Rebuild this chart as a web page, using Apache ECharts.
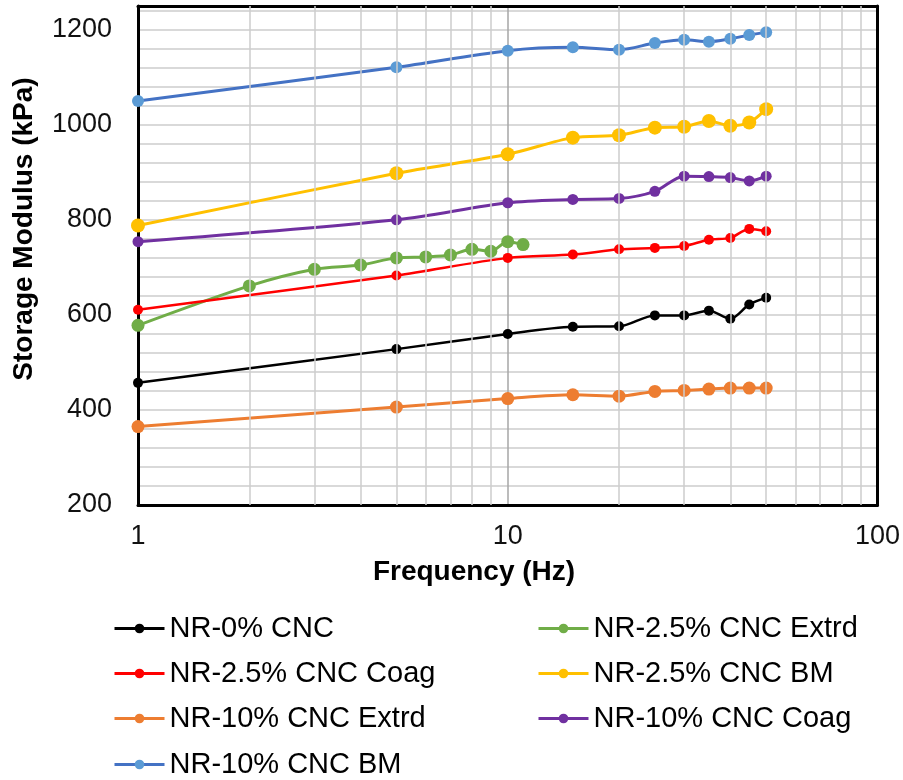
<!DOCTYPE html>
<html>
<head>
<meta charset="utf-8">
<title>Storage Modulus vs Frequency</title>
<script src="https://cdn.jsdelivr.net/npm/echarts@6/dist/echarts.min.js"></script>
<style>
html, body {margin: 0; padding: 0; background: #fff;}
#chart {width: 903px; height: 780px;}
</style>
</head>
<body>
<div id="chart"></div>
<script>
// frequencies (Hz)
let freqMain = [1, 5, 10, 15, 20, 25, 30, 35, 40, 45, 50];
let freqExtrd = [1, 2, 3, 4, 5, 6, 7, 8, 9, 10, 11];

// storage modulus (kPa)
let nr0 = [457, 528, 560, 575, 576, 599, 599, 609, 592, 622, 636];
let nr25Extrd = [578, 661, 696, 705, 720, 722, 726, 738, 734, 754, 748];
let nr25Coag = [611, 683, 720, 727, 738, 741, 745, 758, 762, 781, 776];
let nr25BM = [788, 898, 938, 973, 978, 994, 996, 1008, 998, 1005, 1033];
let nr10Extrd = [365, 406, 424, 432, 429, 439, 441, 444, 446, 446, 446];
let nr10Coag = [754, 800, 836, 843, 845, 860, 892, 891, 889, 882, 892];
let nr10BM = [1050, 1121, 1156, 1163, 1158, 1172, 1179, 1175, 1181, 1189, 1195];

let names = ['NR-0% CNC', 'NR-2.5% CNC Extrd', 'NR-2.5% CNC Coag', 'NR-2.5% CNC BM',
	'NR-10% CNC Extrd', 'NR-10% CNC Coag', 'NR-10% CNC BM'];
let minorFreq = [2, 3, 4, 5, 6, 7, 8, 9, 20, 30, 40, 50, 60, 70, 80, 90];

const FONT = '"Liberation Sans", Arial, sans-serif';

function pairs (xs, ys) {
	return xs.map((x, i) => [x, ys[i]]);
}

function lineSeries (name, xs, ys, lineColor, dotColor, size, width) {
	return {
		name: name,
		type: 'line',
		data: pairs(xs, ys),
		smooth: 0.3,
		symbol: 'circle',
		symbolSize: size,
		z: 2,
		lineStyle: {color: lineColor, width: width || 3},
		itemStyle: {color: dotColor}
	};
}

// legend: two columns, filled row by row like Excel
let legendCols = [113, 537];
let legendRows = [628, 673, 718, 764];
let legends = names.map((name, i) => ({
	left: legendCols[i % 2],
	top: legendRows[Math.floor(i / 2)] - 14,
	padding: 0,
	itemWidth: 50,
	itemHeight: 12,
	data: [name],
	lineStyle: {width: 3},
	textStyle: {fontSize: 29, color: '#000', fontFamily: FONT}
}));

let chart = echarts.init(document.getElementById('chart'));
chart.setOption({
	animation: false,
	backgroundColor: '#fff',
	grid: {left: 138, right: 25, top: 6, bottom: 275},
	legend: legends,
	xAxis: [{
		type: 'log',
		logBase: 10,
		min: 1,
		max: 100,
		axisLine: {lineStyle: {color: '#000', width: 3}},
		axisTick: {show: false},
		axisLabel: {fontSize: 27, color: '#111', margin: 18, fontFamily: FONT},
		splitLine: {show: true, showMinLine: false, showMaxLine: false, lineStyle: {color: '#a6a6a6', width: 1.5}}
	}, {
		type: 'log',
		logBase: 10,
		min: 1,
		max: 100,
		position: 'top',
		axisLine: {lineStyle: {color: '#000', width: 3}},
		axisTick: {show: false},
		axisLabel: {show: false},
		splitLine: {show: false}
	}],
	yAxis: [{
		type: 'value',
		min: 200,
		max: 1250,
		interval: 40,
		axisLine: {show: true, lineStyle: {color: '#000', width: 3}},
		axisTick: {show: false},
		axisLabel: {
			fontSize: 27, color: '#111', margin: 26, fontFamily: FONT,
			formatter: v => (v % 200 === 0 ? String(v) : '')
		},
		splitLine: {show: true, showMinLine: false, showMaxLine: false, lineStyle: {color: '#cccccc', width: 1.5}}
	}, {
		type: 'value',
		min: 200,
		max: 1250,
		position: 'right',
		axisLine: {show: true, lineStyle: {color: '#000', width: 3}},
		axisTick: {show: false},
		axisLabel: {show: false},
		splitLine: {show: false}
	}],
	graphic: [{
		type: 'text',
		x: 24,
		y: 229,
		rotation: Math.PI / 2,
		style: {
			text: 'Storage Modulus (kPa)',
			fontSize: 28, fontWeight: 'bold', fontFamily: FONT, fill: '#000',
			align: 'center', verticalAlign: 'middle'
		}
	}, {
		type: 'text',
		x: 474,
		y: 572,
		style: {
			text: 'Frequency (Hz)',
			fontSize: 28, fontWeight: 'bold', fontFamily: FONT, fill: '#000',
			align: 'center', verticalAlign: 'middle'
		}
	}],
	series: [
		{
			// minor log grid lines
			name: 'minor-grid',
			type: 'line',
			data: [],
			z: 1,
			silent: true,
			markLine: {
				silent: true,
				symbol: ['none', 'none'],
				label: {show: false},
				lineStyle: {color: '#cccccc', width: 1.5, type: 'solid'},
				data: minorFreq.map(f => ({xAxis: f}))
			}
		},
		lineSeries(names[0], freqMain, nr0, '#000000', '#000000', 10, 2.5),
		lineSeries(names[1], freqExtrd, nr25Extrd, '#70ad47', '#70ad47', 13),
		lineSeries(names[2], freqMain, nr25Coag, '#ff0000', '#ff0000', 10, 2.5),
		lineSeries(names[3], freqMain, nr25BM, '#ffc000', '#ffc000', 14),
		lineSeries(names[4], freqMain, nr10Extrd, '#ed7d31', '#ed7d31', 13),
		lineSeries(names[5], freqMain, nr10Coag, '#7030a0', '#7030a0', 11),
		lineSeries(names[6], freqMain, nr10BM, '#4472c4', '#5b9bd5', 12)
	]
});
</script>
</body>
</html>
